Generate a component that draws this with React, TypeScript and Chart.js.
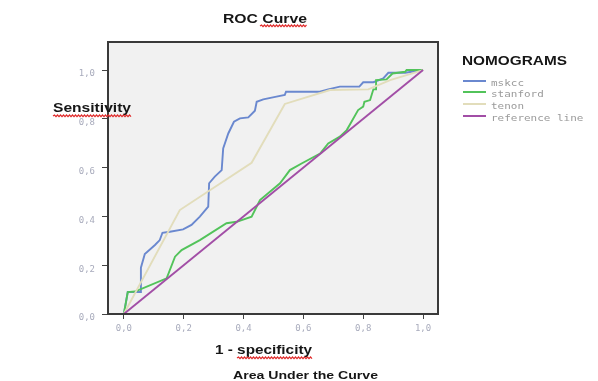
import React, { useEffect, useRef } from "react";
import { Chart, registerables } from "chart.js";

Chart.register(...registerables);

const seriesNames = ["mskcc", "stanford", "tenon", "reference line"];
const seriesColors = ["#6a88cf", "#52c35a", "#e2ddbb", "#a24ea6"];

const mskccX = [0, 0.013, 0.057, 0.057, 0.07, 0.104, 0.12, 0.129, 0.154, 0.198, 0.226, 0.254, 0.282, 0.285, 0.304, 0.327, 0.332, 0.349, 0.368, 0.388, 0.416, 0.438, 0.444, 0.466, 0.51, 0.538, 0.542, 0.655, 0.683, 0.722, 0.787, 0.8, 0.834, 0.867, 0.884, 0.94, 1.0];
const mskccY = [0, 0.09, 0.09, 0.19, 0.246, 0.283, 0.303, 0.333, 0.337, 0.347, 0.365, 0.399, 0.44, 0.536, 0.563, 0.59, 0.679, 0.74, 0.788, 0.802, 0.806, 0.833, 0.87, 0.88, 0.891, 0.898, 0.911, 0.911, 0.921, 0.932, 0.932, 0.95, 0.95, 0.966, 0.989, 0.989, 1.0];

const stanfordX = [0, 0.013, 0.037, 0.143, 0.171, 0.193, 0.254, 0.343, 0.377, 0.427, 0.455, 0.522, 0.555, 0.594, 0.656, 0.683, 0.722, 0.745, 0.783, 0.8, 0.804, 0.823, 0.834, 0.843, 0.843, 0.878, 0.898, 0.94, 0.945, 1.0];
const stanfordY = [0, 0.09, 0.092, 0.146, 0.235, 0.262, 0.303, 0.372, 0.378, 0.399, 0.467, 0.536, 0.59, 0.617, 0.658, 0.699, 0.727, 0.754, 0.836, 0.85, 0.87, 0.877, 0.921, 0.921, 0.959, 0.962, 0.986, 0.993, 1.0, 1.0];

const tenonX = [0, 0.187, 0.427, 0.538, 0.689, 0.817, 0.89, 1.0];
const tenonY = [0, 0.426, 0.62, 0.861, 0.918, 0.921, 0.959, 1.0];

const referenceX = [0, 1];
const referenceY = [0, 1];

const tickValues = [0, 0.2, 0.4, 0.6, 0.8, 1.0];
const tickLabels = ["0,0", "0,2", "0,4", "0,6", "0,8", "1,0"];

const chartTitle = "ROC Curve";
const xTitle = "1 - specificity";
const yTitle = "Sensitivity";
const subTitle = "Area Under the Curve";
const legendTitle = "NOMOGRAMS";

const toPoints = (xs: number[], ys: number[]) => xs.map((x, i) => ({ x, y: ys[i] }));

function stretchText(ctx: CanvasRenderingContext2D, text: string, x: number, y: number, font: string, color: string, width: number, align: "left" | "center") {
  ctx.save();
  ctx.font = font;
  const w = ctx.measureText(text).width;
  const sx = width / w;
  ctx.translate(x, y);
  ctx.scale(sx, 1);
  ctx.fillStyle = color;
  ctx.textAlign = align;
  ctx.textBaseline = "middle";
  ctx.fillText(text, 0, 0);
  ctx.restore();
}

function squiggle(ctx: CanvasRenderingContext2D, x0: number, x1: number, y: number) {
  ctx.save();
  ctx.strokeStyle = "#e02a2a";
  ctx.lineWidth = 1.2;
  ctx.beginPath();
  let up = true;
  ctx.moveTo(x0, y);
  for (let x = x0 + 1.5; x <= x1; x += 1.5) {
    ctx.lineTo(x, up ? y - 1 : y + 0.6);
    up = !up;
  }
  ctx.stroke();
  ctx.restore();
}

const decorPlugin = {
  id: "decor",
  beforeDatasetsDraw(chart: any) {
    const { ctx, chartArea: a } = chart;
    ctx.save();
    ctx.fillStyle = "#f1f1f1";
    ctx.fillRect(a.left, a.top, a.right - a.left, a.bottom - a.top);
    ctx.restore();
  },
  afterDraw(chart: any) {
    const { ctx, chartArea: a } = chart;
    ctx.save();
    ctx.strokeStyle = "#3a3a3a";
    ctx.lineWidth = 2;
    ctx.strokeRect(a.left, a.top, a.right - a.left, a.bottom - a.top);
    ctx.restore();

    const bold = "bold 12px 'Liberation Sans', Arial, sans-serif";
    stretchText(ctx, chartTitle, 223, 20, bold, "#161616", 84, "left");
    squiggle(ctx, 260, 307, 26);
    stretchText(ctx, yTitle, 53, 109, bold, "#161616", 78, "left");
    squiggle(ctx, 53, 131, 116);
    stretchText(ctx, xTitle, 215, 351, bold, "#161616", 97, "left");
    squiggle(ctx, 237, 312, 358);
    stretchText(ctx, subTitle, 233, 376, "bold 11px 'Liberation Sans', Arial, sans-serif", "#161616", 145, "left");

    stretchText(ctx, legendTitle, 462, 62, bold, "#161616", 105, "left");
    const rowsY = [81, 92, 104, 116];
    const mono = "9px 'DejaVu Sans Mono', monospace";
    seriesNames.forEach((name, i) => {
      ctx.save();
      ctx.strokeStyle = seriesColors[i];
      ctx.lineWidth = 2;
      ctx.beginPath();
      ctx.moveTo(463, rowsY[i]);
      ctx.lineTo(486, rowsY[i]);
      ctx.stroke();
      ctx.restore();
      stretchText(ctx, name, 491, rowsY[i] + 2.5, mono, "#9a9a9a", name.length * 6.6, "left");
    });
  },
};

export default function App() {
  const ref = useRef<HTMLCanvasElement | null>(null);
  useEffect(() => {
    if (!ref.current) return;
    const series = [
      toPoints(mskccX, mskccY),
      toPoints(stanfordX, stanfordY),
      toPoints(tenonX, tenonY),
      toPoints(referenceX, referenceY),
    ];
    const orders = [4, 3, 2, 1];
    const tickFont = { family: "'DejaVu Sans Mono', monospace", size: 9 };
    const chart = new Chart(ref.current, {
      type: "line",
      data: {
        datasets: series.map((pts, i) => ({
          label: seriesNames[i],
          data: pts,
          borderColor: seriesColors[i],
          backgroundColor: seriesColors[i],
          borderWidth: 1.9,
          pointRadius: 0,
          tension: 0,
          fill: false,
          order: orders[i],
        })),
      },
      options: {
        animation: false,
        responsive: false,
        devicePixelRatio: 1,
        layout: { padding: { left: 0, right: 160, top: 42, bottom: 0 } },
        plugins: { legend: { display: false }, tooltip: { enabled: false }, title: { display: false } },
        scales: {
          x: {
            type: "linear",
            min: -0.053,
            max: 1.05,
            afterBuildTicks: (s: any) => { s.ticks = tickValues.map((v) => ({ value: v })); },
            afterFit: (s: any) => { s.height = 67; },
            border: { display: false },
            grid: { drawOnChartArea: false, drawTicks: true, tickLength: 5, color: "#444" },
            ticks: {
              callback: (_v: any, i: number) => tickLabels[i],
              font: tickFont,
              color: "#a8abbc",
              padding: 4,
              maxRotation: 0,
              autoSkip: false,
            },
          },
          y: {
            type: "linear",
            min: 0,
            max: 1.115,
            afterBuildTicks: (s: any) => { s.ticks = tickValues.map((v) => ({ value: v })); },
            afterFit: (s: any) => { s.width = 108; },
            border: { display: false },
            grid: { drawOnChartArea: false, drawTicks: true, tickLength: 6, color: "#444" },
            ticks: {
              callback: (_v: any, i: number) => tickLabels[i],
              font: tickFont,
              color: "#a8abbc",
              padding: 7,
              labelOffset: 4,
              autoSkip: false,
            },
          },
        },
      },
      plugins: [decorPlugin],
    } as any);
    return () => chart.destroy();
  }, []);
  return (
    <div style={{ position: "absolute", left: 0, top: 0, width: 598, height: 381, background: "#fff" }}>
      <canvas ref={ref} width={598} height={381} style={{ width: 598, height: 381, display: "block" }} />
    </div>
  );
}
